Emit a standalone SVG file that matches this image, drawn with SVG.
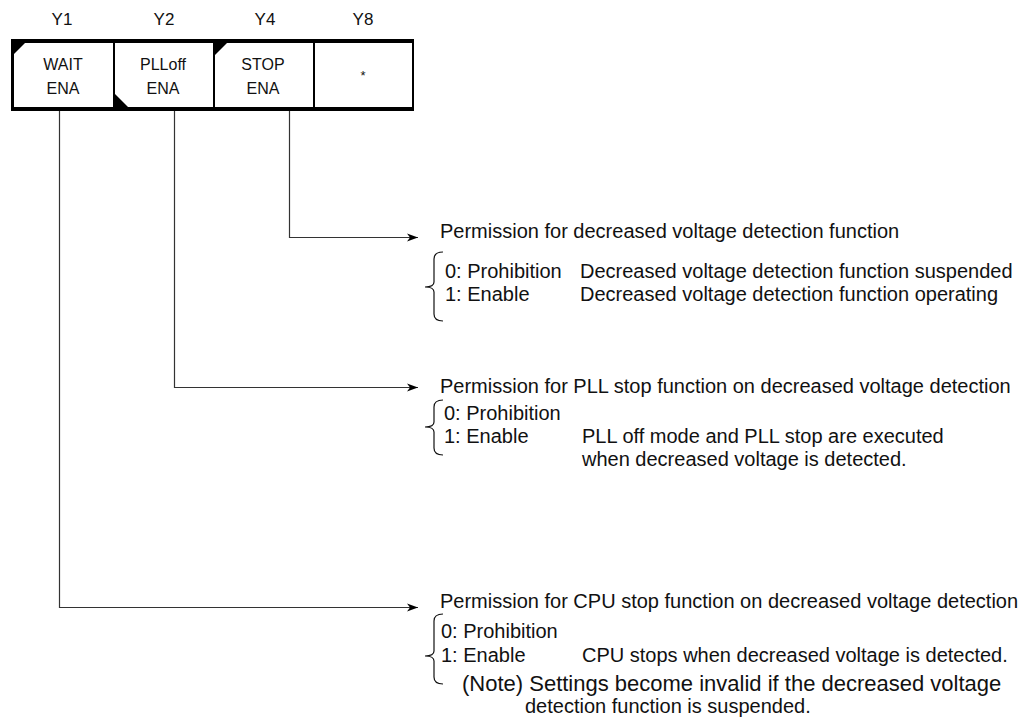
<svg xmlns="http://www.w3.org/2000/svg" width="1032" height="721" viewBox="0 0 1032 721">
<style>
.lbl{font-family:"Liberation Sans",Arial,sans-serif;font-size:16px;fill:#111;text-anchor:middle}
.yl{font-family:"Liberation Sans",Arial,sans-serif;font-size:17px;fill:#111;text-anchor:middle}
.t{font-family:"Liberation Sans",Arial,sans-serif;font-size:20px;fill:#111}
.note{font-size:22px}
.ln{fill:none;stroke:#333;stroke-width:1.2}
.br{fill:none;stroke:#111;stroke-width:1.2}
.blk{fill:#000}
</style>
<defs>
<marker id="ah" markerWidth="12" markerHeight="10" refX="11" refY="5" orient="auto" markerUnits="userSpaceOnUse">
<path d="M0,1 L11,5 L0,9 L3,5 Z" fill="#000"/>
</marker>
</defs>
<g id="register">
<rect x="11" y="39" width="403" height="4" class="blk"/>
<rect x="11" y="107" width="403" height="4" class="blk"/>
<rect x="11" y="39" width="3" height="72" class="blk"/>
<rect x="412" y="39" width="2" height="72" class="blk"/>
<rect x="113" y="39" width="2" height="72" class="blk"/>
<rect x="213" y="39" width="2" height="72" class="blk"/>
<rect x="313" y="39" width="2" height="72" class="blk"/>
</g>
<g id="y1">
<text class="yl" x="62" y="25">Y1</text>
<polygon points="14,43 25,43 14,54" class="blk"/>
<text class="lbl" x="63" y="70">WAIT</text>
<text class="lbl" x="63" y="94">ENA</text>
</g>
<g id="y2">
<text class="yl" x="164" y="25">Y2</text>
<polygon points="115,94 115,107 128,107" class="blk"/>
<text class="lbl" x="163" y="70">PLLoff</text>
<text class="lbl" x="163" y="94">ENA</text>
</g>
<g id="y4">
<text class="yl" x="265" y="25">Y4</text>
<polygon points="215,43 227,43 215,55" class="blk"/>
<text class="lbl" x="263" y="70">STOP</text>
<text class="lbl" x="263" y="94">ENA</text>
</g>
<g id="y8">
<text class="yl" x="363" y="25">Y8</text>
<text class="lbl" x="363" y="80" style="font-size:13px">*</text>
</g>
<g id="connectors">
<polyline class="ln" points="289.5,111 289.5,237.5 418,237.5" marker-end="url(#ah)"/>
<polyline class="ln" points="174.5,111 174.5,387.5 418,387.5" marker-end="url(#ah)"/>
<polyline class="ln" points="59.5,111 59.5,607.5 418,607.5" marker-end="url(#ah)"/>
</g>
<g id="stop-desc">
<text class="t" x="440" y="238">Permission for decreased voltage detection function</text>
<path class="br" d="M443,252 Q434,252 434,259 L434,282 Q434,287 425,287 Q434,287 434,292 L434,314 Q434,321 443,321"/>
<text class="t" x="445" y="278">0: Prohibition</text>
<text class="t" x="580" y="278">Decreased voltage detection function suspended</text>
<text class="t" x="445" y="301">1: Enable</text>
<text class="t" x="580" y="301">Decreased voltage detection function operating</text>
</g>
<g id="pll-desc">
<text class="t" x="440" y="393">Permission for PLL stop function on decreased voltage detection</text>
<path class="br" d="M443,400 Q434,400 434,407 L434,422 Q434,427 425,427 Q434,427 434,432 L434,448 Q434,455 443,455"/>
<text class="t" x="444" y="420">0: Prohibition</text>
<text class="t" x="444" y="443">1: Enable</text>
<text class="t" x="582" y="443">PLL off mode and PLL stop are executed</text>
<text class="t" x="582" y="466">when decreased voltage is detected.</text>
</g>
<g id="cpu-desc">
<text class="t" x="440" y="608">Permission for CPU stop function on decreased voltage detection</text>
<path class="br" d="M443,614 Q434,614 434,621 L434,651 Q434,656 425,656 Q434,656 434,661 L434,677 Q434,684 443,684"/>
<text class="t" x="441" y="638">0: Prohibition</text>
<text class="t" x="441" y="662">1: Enable</text>
<text class="t" x="582" y="662">CPU stops when decreased voltage is detected.</text>
<text class="t note" x="462" y="691">(Note) Settings become invalid if the decreased voltage</text>
<text class="t" x="525" y="713">detection function is suspended.</text>
</g>
</svg>
